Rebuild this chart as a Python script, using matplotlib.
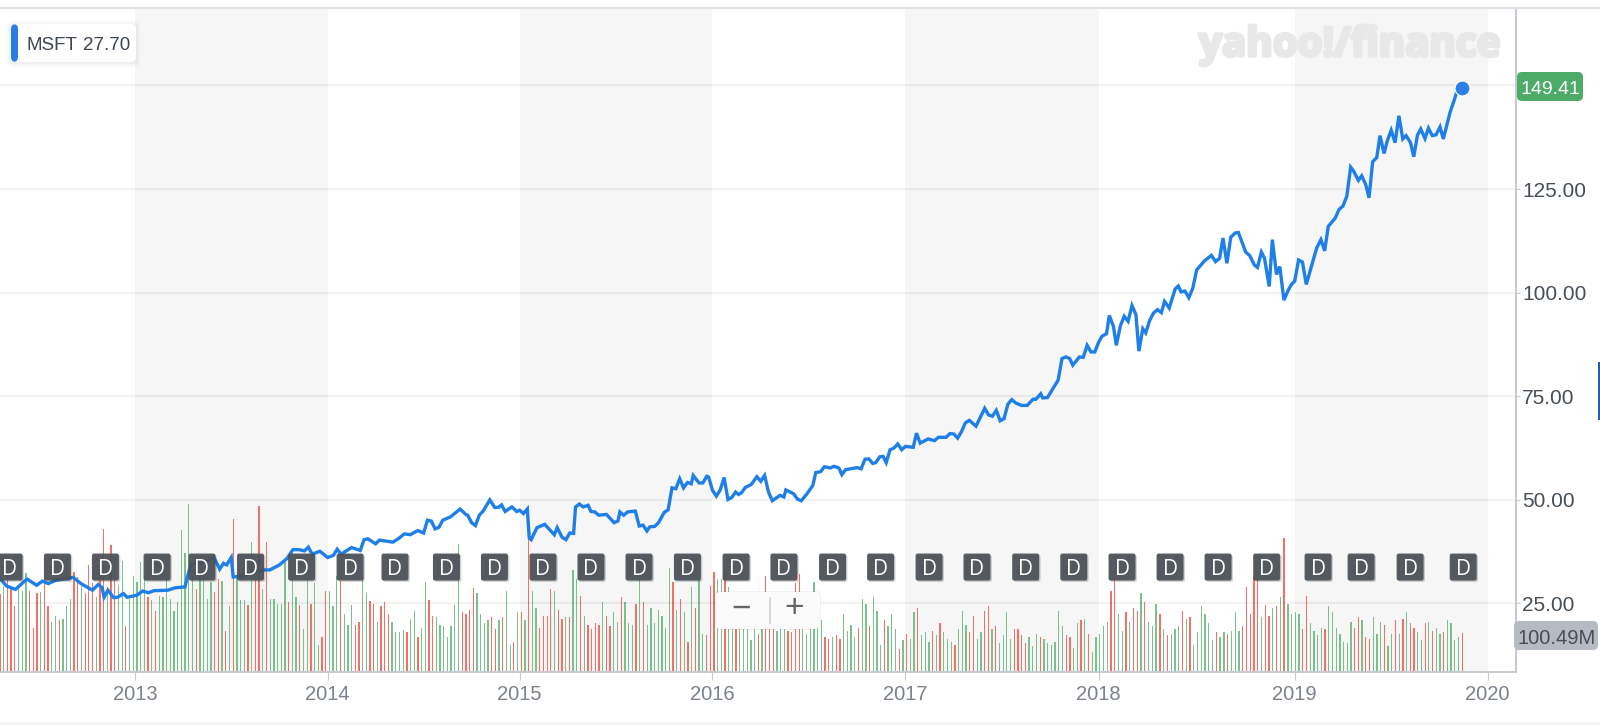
import numpy as np
import matplotlib
matplotlib.use("Agg")
import matplotlib.pyplot as plt
import matplotlib.patheffects as pe
from matplotlib.patches import FancyBboxPatch, Rectangle

# MSFT weekly close (decimal year, price)
price_years = [
    2012.30, 2012.335, 2012.38, 2012.44, 2012.49, 2012.52, 2012.55, 2012.59, 2012.68, 2012.72,
    2012.78, 2012.81, 2012.83, 2012.84, 2012.86, 2012.89, 2012.91, 2012.94, 2012.96, 2013.01,
    2013.04, 2013.07, 2013.10, 2013.17, 2013.21, 2013.26, 2013.27, 2013.29, 2013.31, 2013.35,
    2013.41, 2013.44, 2013.46, 2013.476, 2013.50, 2013.51, 2013.56, 2013.62, 2013.67, 2013.70,
    2013.75, 2013.79, 2013.82, 2013.85, 2013.88, 2013.90, 2013.92, 2013.96, 2014.00, 2014.03,
    2014.05, 2014.07, 2014.125, 2014.17, 2014.19, 2014.21, 2014.25, 2014.27, 2014.34, 2014.37,
    2014.40, 2014.43, 2014.47, 2014.50, 2014.52, 2014.54, 2014.56, 2014.58, 2014.60, 2014.64,
    2014.69, 2014.72, 2014.73, 2014.75, 2014.77, 2014.79, 2014.81, 2014.845, 2014.87, 2014.89,
    2014.906, 2014.925, 2014.96, 2014.985, 2015.00, 2015.02, 2015.04, 2015.05, 2015.06, 2015.09,
    2015.13, 2015.18, 2015.195, 2015.22, 2015.24, 2015.26, 2015.28, 2015.29, 2015.31, 2015.33,
    2015.355, 2015.37, 2015.39, 2015.41, 2015.45, 2015.49, 2015.51, 2015.52, 2015.54, 2015.56,
    2015.60, 2015.62, 2015.64, 2015.66, 2015.675, 2015.70, 2015.72, 2015.75, 2015.77, 2015.79,
    2015.81, 2015.83, 2015.85, 2015.87, 2015.89, 2015.90, 2015.93, 2015.95, 2015.97, 2015.98,
    2016.00, 2016.02, 2016.04, 2016.06, 2016.08, 2016.10, 2016.12, 2016.135, 2016.15, 2016.17,
    2016.20, 2016.21, 2016.23, 2016.25, 2016.27, 2016.29, 2016.31, 2016.35, 2016.37, 2016.38,
    2016.42, 2016.44, 2016.46, 2016.49, 2016.52, 2016.535, 2016.56, 2016.58, 2016.61, 2016.63,
    2016.655, 2016.67, 2016.69, 2016.75, 2016.77, 2016.79, 2016.81, 2016.83, 2016.846, 2016.867,
    2016.884, 2016.90, 2016.92, 2016.94, 2016.96, 2016.98, 2017.00, 2017.04, 2017.057, 2017.076,
    2017.117, 2017.15, 2017.17, 2017.21, 2017.23, 2017.25, 2017.27, 2017.29, 2017.31, 2017.33,
    2017.365, 2017.41, 2017.43, 2017.45, 2017.47, 2017.49, 2017.51, 2017.53, 2017.55, 2017.57,
    2017.60, 2017.63, 2017.64, 2017.66, 2017.675, 2017.70, 2017.71, 2017.735, 2017.79, 2017.81,
    2017.83, 2017.85, 2017.866, 2017.90, 2017.92, 2017.94, 2017.96, 2017.98, 2018.00, 2018.017,
    2018.04, 2018.054, 2018.075, 2018.09, 2018.11, 2018.13, 2018.15, 2018.17, 2018.19, 2018.205,
    2018.225, 2018.24, 2018.26, 2018.28, 2018.30, 2018.32, 2018.336, 2018.36, 2018.39, 2018.406,
    2018.42, 2018.44, 2018.46, 2018.48, 2018.50, 2018.54, 2018.575, 2018.596, 2018.617, 2018.634,
    2018.654, 2018.674, 2018.696, 2018.713, 2018.75, 2018.77, 2018.794, 2018.81, 2018.83, 2018.846,
    2018.87, 2018.886, 2018.907, 2018.924, 2018.945, 2018.967, 2018.984, 2019.00, 2019.02, 2019.04,
    2019.06, 2019.114, 2019.136, 2019.155, 2019.174, 2019.21, 2019.23, 2019.25, 2019.27, 2019.29,
    2019.307, 2019.33, 2019.347, 2019.368, 2019.385, 2019.404, 2019.425, 2019.442, 2019.463, 2019.48,
    2019.50, 2019.52, 2019.54, 2019.56, 2019.577, 2019.60, 2019.617, 2019.636, 2019.653, 2019.675,
    2019.693, 2019.713, 2019.732, 2019.753, 2019.77, 2019.805, 2019.826, 2019.848, 2019.868,
]
price_values = [
    31.0, 29.2, 28.4, 30.9, 29.4, 30.4, 29.8, 30.6, 31.3, 29.8,
    28.2, 29.6, 28.8, 26.5, 28.2, 26.4, 26.5, 27.4, 26.5, 27.0,
    28.0, 27.6, 28.1, 28.2, 28.8, 29.0, 31.0, 34.3, 34.7, 34.7,
    36.1, 33.3, 34.7, 34.3, 36.1, 31.4, 31.7, 32.7, 33.1, 33.1,
    34.3, 35.9, 38.0, 38.0, 37.7, 38.6, 36.9, 37.6, 36.1, 36.6,
    38.1, 36.9, 38.5, 37.8, 40.4, 40.6, 39.4, 40.3, 39.8, 40.7,
    41.8, 41.6, 42.6, 42.0, 45.1, 44.9, 43.0, 43.4, 45.1, 45.9,
    47.8, 46.5, 46.3, 44.5, 43.8, 46.3, 47.3, 50.0, 48.2, 48.2,
    48.8, 47.2, 48.3, 47.2, 47.5, 46.7, 47.8, 40.8, 40.4, 43.3,
    44.1, 41.6, 43.3, 41.0, 40.4, 42.0, 41.9, 48.3, 49.0, 48.3,
    48.7, 47.2, 47.1, 46.3, 46.5, 44.5, 44.9, 47.1, 46.3, 47.1,
    47.3, 43.7, 43.9, 42.5, 43.5, 43.6, 44.5, 47.0, 47.6, 52.9,
    52.7, 55.1, 52.9, 54.2, 53.9, 55.9, 54.1, 54.1, 55.7, 55.5,
    52.3, 50.9, 52.4, 55.4, 50.1, 50.6, 51.9, 51.3, 51.7, 53.0,
    53.7, 54.3, 55.6, 54.5, 55.9, 51.9, 49.8, 51.1, 50.7, 52.4,
    51.5, 50.2, 49.8, 51.5, 53.5, 56.6, 56.8, 58.0, 57.7, 58.1,
    57.7, 56.1, 57.3, 57.8, 57.5, 59.8, 59.9, 58.8, 59.0, 60.4,
    60.5, 59.0, 62.1, 62.5, 63.5, 62.1, 62.9, 62.7, 66.1, 63.7,
    64.7, 64.3, 65.1, 65.1, 66.0, 65.9, 64.9, 66.5, 68.6, 69.2,
    67.8, 72.1, 70.5, 70.2, 71.6, 69.1, 69.6, 73.1, 74.2, 73.4,
    72.8, 72.8, 73.3, 74.3, 74.3, 75.6, 74.6, 74.7, 78.9, 84.1,
    84.5, 84.1, 82.5, 84.5, 84.4, 87.3, 85.7, 85.7, 88.1, 89.5,
    90.1, 94.5, 91.9, 87.3, 91.9, 94.3, 93.1, 96.9, 94.7, 85.9,
    91.3, 90.3, 93.3, 95.1, 95.9, 95.2, 97.9, 96.3, 100.9, 101.6,
    100.2, 100.4, 98.8, 101.1, 105.5, 107.7, 109.0, 107.5, 108.3, 113.2,
    107.1, 113.4, 114.4, 114.5, 109.8, 109.0, 106.7, 106.1, 109.8, 108.3,
    101.5, 112.8, 104.4, 106.3, 98.2, 100.6, 102.0, 102.8, 107.9, 107.4,
    102.0, 110.8, 112.8, 110.1, 116.0, 118.0, 120.1, 120.9, 123.3, 130.3,
    129.2, 127.1, 128.2, 126.1, 122.9, 131.6, 132.6, 137.9, 133.6, 136.7,
    139.2, 136.2, 142.7, 137.1, 137.9, 136.2, 132.8, 138.0, 139.5, 137.2,
    139.7, 137.9, 138.1, 140.0, 137.1, 143.5, 146.4, 149.6, 149.41,
]

# weekly volume in millions, and r/g for down/up weeks, same order
volume_m = [
    202, 224, 257, 217, 171, 215, 210, 257, 210, 115,
    206, 207, 241, 171, 131, 147, 136, 138, 171, 191,
    261, 248, 224, 206, 278, 232, 194, 268, 373, 222,
    330, 241, 226, 290, 120, 191, 250, 235, 285, 250,
    194, 187, 159, 199, 194, 241, 191, 159, 183, 370,
    310, 436, 241, 215, 250, 242, 191, 235, 208, 242,
    238, 106, 171, 397, 250, 187, 187, 175, 338, 241,
    433, 215, 338, 191, 191, 178, 178, 286, 183, 241,
    194, 175, 111, 241, 178, 231, 71, 91, 210, 210,
    171, 250, 238, 150, 122, 174, 122, 129, 254, 206,
    186, 178, 130, 171, 183, 150, 130, 103, 103, 110,
    103, 138, 159, 91, 114, 234, 187, 147, 143, 122,
    120, 91, 120, 174, 334, 155, 151, 162, 218, 206,
    150, 127, 136, 143, 111, 136, 143, 210, 71, 79,
    155, 155, 136,
    429, 210, 166, 114, 147, 147, 215, 210, 162, 138,
    143, 143, 266, 241, 199, 147, 122, 111, 127, 122,
    183, 147, 120, 155, 130, 194, 183, 127, 122, 178,
    259, 183, 122, 166, 127, 162, 147, 114, 270, 234,
    162, 191, 155, 79, 222, 166, 241, 99, 95, 225,
    259, 241, 241, 263, 222, 118, 118, 118, 118, 118,
    83, 111, 99, 118, 250, 118, 118, 106, 118, 118,
    106, 103, 231, 254, 118, 99, 118, 234, 122, 136,
    91, 87, 91, 95, 87, 150, 106, 122, 91, 114,
    191, 178, 120, 194, 159, 71, 136, 120, 150, 111,
    59, 83, 99, 87, 155, 166, 95, 103, 79, 106,
    95, 127, 103, 87, 79, 71, 111, 159, 122, 103,
    147, 87, 103, 159, 171, 111, 120, 75, 95, 155,
    87, 111, 111, 95, 75, 91, 67, 99, 91, 87,
    75, 71, 79,
    159, 120, 95, 91, 63, 127, 136, 138, 99, 51,
    91, 99, 120, 130, 210, 259, 150, 106, 155, 130,
    166, 159, 206, 183, 130, 120, 178, 150, 111, 95,
    99, 111, 120, 159, 138, 143, 71, 103, 171, 150,
    127, 83, 103, 91, 103, 99, 106, 155, 106, 120,
    222, 150, 246, 241, 143, 174, 147, 166, 171, 194,
    349, 178, 150, 155, 150, 111, 199, 127, 106, 95,
    114, 111, 171, 155, 114, 99, 79, 75, 130, 114,
    143, 136, 91, 87, 143, 99, 130, 122, 67, 99,
    136, 99, 138, 155, 127, 114, 103, 83, 127, 130,
    106, 114, 99, 103, 136, 127, 83, 91, 100.49,
]
volume_side = (
    "rgrrrgggrr" "rgrrggrggg" "rrgrrrgrrg" "rrggrggggg" "rgrggggggg"
    "gggrggggrr" "grgrgggrgr" "rgrgggggrg" "grggrggrrg" "ggrgggrrgg"
    "rrgrrrgggg" "rggrggrrgg" "gggggrrrrg" "gggrrgrggr" "grg"
    "rggrrrrgrr" "grggrgrrrr" "grrggrgggr" "grgggggggr" "grgrgrggrr"
    "rggrggrggg" "ggrgrrrggg" "rrrrgggggg" "rrgrrggggr" "ggrgggrggg"
    "rgrggrgggr" "grgggrgggr" "rggrrgrggg" "grrrrgggrg" "ggg"
    "ggrrggrgrg" "ggggrrggrg" "rrgrgggrgr" "gggrgrgggg" "ggrggrgggr"
    "rrrrgrrgrg" "rggggrrggg" "grgggggggr" "rgrrgggrgg" "rgrgrrggrg"
    "rggrggggr"
)

# dividend dates, decimal years
dividend_years = [
    2012.347, 2012.598, 2012.847, 2013.115, 2013.348, 2013.60, 2013.865, 2014.117,
    2014.351, 2014.619, 2014.869, 2015.121, 2015.370, 2015.619, 2015.870, 2016.122,
    2016.37, 2016.622, 2016.871, 2017.122, 2017.37, 2017.622, 2017.871, 2018.119,
    2018.364, 2018.609, 2018.857, 2019.121, 2019.344, 2019.598, 2019.873,
]

year_ticks = [2013, 2014, 2015, 2016, 2017, 2018, 2019, 2020]
shaded_years = [2013, 2015, 2017, 2019]
price_ticks = [25, 50, 75, 100, 125, 150]

# the chart spaces years by trading weeks, so they are not all the same width
year_anchor_px = [134.9, 327.6, 519.6, 712.5, 905.5, 1098.7, 1294.7, 1487.7]

LINE_BLUE = "#1e7fe8"
AXIS_GRAY = "#c5c9d0"
W, H = 1600, 725

plt.rcParams["font.family"] = ["Liberation Sans", "DejaVu Sans"]

fig = plt.figure(figsize=(W / 100, H / 100), dpi=100, facecolor="white")
ax_vol = fig.add_axes([0, (H - 672) / H, 1516 / W, 664 / H])
ax = ax_vol.twinx()
ax.set_zorder(ax_vol.get_zorder() + 1)
ax.patch.set_visible(False)

# year -> pixel scale, straight lines past both ends
scale_years = [2000.0] + year_ticks + [2030.0]
scale_px = [134.9 - 13 * 192.7] + year_anchor_px + [1487.7 + 10 * 193.0]


def year_to_px(v):
    return np.interp(v, scale_years, scale_px)


def px_to_year(v):
    return np.interp(v, scale_px, scale_years)


ax_vol.set_xscale("function", functions=(year_to_px, px_to_year))
x_left, x_right = px_to_year(0), px_to_year(1516)
ax_vol.set_xlim(x_left, x_right)
ax.set_ylim(8.47, 168.7)
ax_vol.set_ylim(0, 1728)

for y0 in shaded_years:
    ax_vol.axvspan(y0, y0 + 1, color="#f6f6f6", lw=0, zorder=0)

# volume bars, evenly spread over the weeks shown
vol_x = np.linspace(2012.30, 2019.868, len(volume_m))
vol_colors = ["#f6574d" if s == "r" else "#64b67a" for s in volume_side]
ax_vol.bar(vol_x, volume_m, width=0.0066, color=vol_colors, alpha=0.85, lw=0, zorder=2)
ax_vol.set_yticks([])
ax_vol.set_xticks(year_ticks)
ax_vol.set_xticklabels([str(y) for y in year_ticks])
ax_vol.minorticks_off()
ax_vol.tick_params(axis="x", length=5.5, color=AXIS_GRAY, labelcolor="#7b828c", labelsize=14.5, pad=4)

for g in price_ticks:
    ax.axhline(g, color="black", alpha=0.05, lw=1.5, zorder=1)
ax.plot(price_years, price_values, color=LINE_BLUE, lw=2.4, solid_joinstyle="miter", zorder=3)
ax.scatter(price_years[-1:], price_values[-1:], s=115, color="#2a80e8", edgecolors="white",
           linewidths=0.8, zorder=6, clip_on=False)

# dividend markers sit on a fixed price level, rounded square as a marker path
div_y = [33.8] * len(dividend_years)
div_marker = FancyBboxPatch((-0.5, -0.5), 1, 1, boxstyle="round,pad=0,rounding_size=0.08").get_path()
ax.scatter(dividend_years, div_y, marker=div_marker, s=378, color="#4b5157", alpha=0.93, lw=0, zorder=5,
           path_effects=[pe.SimplePatchShadow(offset=(1, -1), alpha=0.2), pe.Normal()])
for dx in dividend_years:
    ax.text(dx, 33.8, "D", color="white", fontsize=15, family="Open Sans",
            ha="center", va="center_baseline", zorder=6)

ax.set_yticks(price_ticks)
ax.set_yticklabels(["%.2f" % p if p != 150 else "" for p in price_ticks])
ax.tick_params(axis="y", length=3, color=AXIS_GRAY, labelcolor="#464e56", labelsize=15, pad=1.5)

for a in (ax, ax_vol):
    for side in ("left", "top"):
        a.spines[side].set_visible(False)
    a.spines["right"].set_color(AXIS_GRAY)
    a.spines["bottom"].set_color(AXIS_GRAY)
    a.spines["right"].set_linewidth(1.2)
    a.spines["bottom"].set_linewidth(1.2)

# everything below is placed in figure pixels, y down like the screenshot
px = fig.add_axes([0, 0, 1, 1], zorder=10)
px.set_xlim(0, W)
px.set_ylim(H, 0)
px.axis("off")
px.patch.set_visible(False)

px.plot([0, W], [8, 8], color="#dfe2e8", lw=1.5)
px.add_patch(Rectangle((0, 722), W, 3, color="#f4f5f6", lw=0))
px.add_patch(Rectangle((1597.5, 362), 2.5, 58, color="#1f5fae", lw=0))

# watermark
px.text(1199, 56, "yahoo!/finance", fontsize=29, fontweight="bold", family="Open Sans", color="#e8e8e8",
        va="baseline", path_effects=[pe.withStroke(linewidth=2.5, foreground="#e8e8e8")])

# legend chip, soft shadow from a few stacked boxes
shadow = dict(boxstyle="round,pad=0,rounding_size=5", lw=0)
for grow in (4, 2.5, 1):
    px.add_patch(FancyBboxPatch((11 - grow, 24 - grow + 1), 125 + 2 * grow, 38 + 2 * grow, fc="black",
                                alpha=0.018, **shadow))
px.add_patch(FancyBboxPatch((11, 24), 125, 38, fc="white", **shadow))
px.add_patch(FancyBboxPatch((11, 24), 7, 38, fc="#2a7de1", **shadow))
px.text(26, 43, "MSFT", fontsize=13.5, color="#3c4650", va="center_baseline")
px.text(83, 43, "27.70", fontsize=13.5, color="#3c4650", va="center_baseline")

# last price and last volume badges
px.add_patch(FancyBboxPatch((1517, 72), 66, 29, fc="#4bab67", **shadow))
px.text(1550, 87, "149.41", fontsize=14, color="white", ha="center", va="center_baseline")
px.add_patch(FancyBboxPatch((1514, 621), 84, 29, fc="#b6bac3", **shadow))
px.text(1557, 636, "100.49M", fontsize=14.5, color="#464e56", ha="center", va="center_baseline")

# zoom control
px.add_patch(FancyBboxPatch((714, 591), 107, 39, fc="black", alpha=0.05, **shadow))
px.add_patch(FancyBboxPatch((715, 592), 105, 37, fc="#fbfbfb", **shadow))
px.plot([770, 770], [598, 623], color="#cfcfcf", lw=1.2)
px.text(741, 609, "\u2212", fontsize=24, color="#666666", ha="center", va="center")
px.text(794, 609, "+", fontsize=24, color="#666666", ha="center", va="center")

fig.savefig("out.png", dpi=100)
